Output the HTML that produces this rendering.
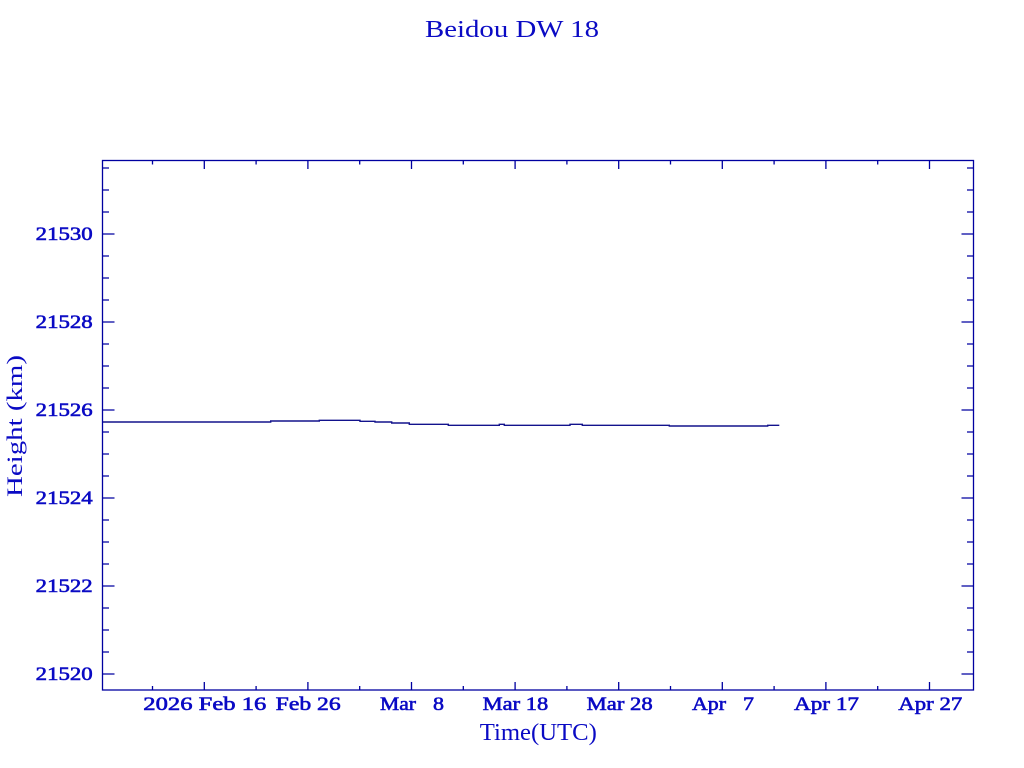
<!DOCTYPE html>
<html>
<head>
<meta charset="utf-8">
<style>
html,body{margin:0;padding:0;background:#fff;}
svg{display:block;}
text{font-family:"Liberation Serif",serif;fill:#0a0ac4;}
.t{font-weight:normal;font-size:19px;stroke:#0a0ac4;stroke-width:0.6px;}
</style>
</head>
<body>
<svg width="1024" height="768" viewBox="0 0 1024 768" xmlns="http://www.w3.org/2000/svg">
<rect width="1024" height="768" fill="#fff"/>
<!-- title -->
<text x="512" y="37" font-size="24" text-anchor="middle" textLength="174" lengthAdjust="spacingAndGlyphs">Beidou DW 18</text>
<!-- frame -->
<rect x="102.5" y="160.5" width="871" height="529.5" fill="none" stroke="#0000a0" stroke-width="1.3"/>
<g stroke="#0000a0" stroke-width="1.3">
<path d="M102.5 234H114.5M102.5 322H114.5M102.5 410H114.5M102.5 498H114.5M102.5 586H114.5M102.5 674H114.5"/>
<path d="M973.5 234H961.5M973.5 322H961.5M973.5 410H961.5M973.5 498H961.5M973.5 586H961.5M973.5 674H961.5"/>
<path d="M102.5 168H109M102.5 190H109M102.5 212H109M102.5 256H109M102.5 278H109M102.5 300H109M102.5 344H109M102.5 366H109M102.5 388H109M102.5 432H109M102.5 454H109M102.5 476H109M102.5 520H109M102.5 542H109M102.5 564H109M102.5 608H109M102.5 630H109M102.5 652H109"/>
<path d="M973.5 168H967M973.5 190H967M973.5 212H967M973.5 256H967M973.5 278H967M973.5 300H967M973.5 344H967M973.5 366H967M973.5 388H967M973.5 432H967M973.5 454H967M973.5 476H967M973.5 520H967M973.5 542H967M973.5 564H967M973.5 608H967M973.5 630H967M973.5 652H967"/>
<path d="M204.3 690V682M307.9 690V682M411.5 690V682M515.1 690V682M618.7 690V682M722.3 690V682M825.9 690V682M929.5 690V682"/>
<path d="M204.3 160.5V169M307.9 160.5V169M411.5 160.5V169M515.1 160.5V169M618.7 160.5V169M722.3 160.5V169M825.9 160.5V169M929.5 160.5V169"/>
<path d="M152.5 690V686M256.1 690V686M359.7 690V686M463.3 690V686M566.9 690V686M670.5 690V686M774.1 690V686M877.7 690V686"/>
<path d="M152.5 160.5V164.5M256.1 160.5V164.5M359.7 160.5V164.5M463.3 160.5V164.5M566.9 160.5V164.5M670.5 160.5V164.5M774.1 160.5V164.5M877.7 160.5V164.5"/>
</g>
<!-- data line -->
<path fill="none" stroke="#12128c" stroke-width="1.4" d="M103 422H270.7V421H319.3V420.3H360V421.3H375V422H391.7V423H409.3V424.3H448.3V425.3H499.3V424.3H504.3V425.3H570V424.3H582.3V425.3H669.3V426H767.7V425.3H779.3"/>
<!-- y tick labels -->
<g text-anchor="end">
<text class="t" x="92.7" y="240" textLength="57" lengthAdjust="spacingAndGlyphs">21530</text>
<text class="t" x="92.7" y="328" textLength="57" lengthAdjust="spacingAndGlyphs">21528</text>
<text class="t" x="92.7" y="416" textLength="57" lengthAdjust="spacingAndGlyphs">21526</text>
<text class="t" x="92.7" y="504" textLength="57" lengthAdjust="spacingAndGlyphs">21524</text>
<text class="t" x="92.7" y="592" textLength="57" lengthAdjust="spacingAndGlyphs">21522</text>
<text class="t" x="92.7" y="680" textLength="57" lengthAdjust="spacingAndGlyphs">21520</text>
</g>
<!-- x tick labels -->
<text class="t" x="143.3" y="710" textLength="123" lengthAdjust="spacingAndGlyphs">2026 Feb 16</text>
<text class="t" x="275.7" y="710" textLength="65" lengthAdjust="spacingAndGlyphs">Feb 26</text>
<text class="t" x="380" y="710" textLength="36" lengthAdjust="spacingAndGlyphs">Mar</text>
<text class="t" x="433" y="710" textLength="11" lengthAdjust="spacingAndGlyphs">8</text>
<text class="t" x="482.7" y="710" textLength="65.6" lengthAdjust="spacingAndGlyphs">Mar 18</text>
<text class="t" x="586.7" y="710" textLength="66" lengthAdjust="spacingAndGlyphs">Mar 28</text>
<text class="t" x="692" y="710" textLength="34" lengthAdjust="spacingAndGlyphs">Apr</text>
<text class="t" x="743" y="710" textLength="11" lengthAdjust="spacingAndGlyphs">7</text>
<text class="t" x="794" y="710" textLength="65" lengthAdjust="spacingAndGlyphs">Apr 17</text>
<text class="t" x="898.3" y="710" textLength="64" lengthAdjust="spacingAndGlyphs">Apr 27</text>
<!-- axis titles -->
<text x="538.3" y="740" font-size="24" text-anchor="middle" textLength="117" lengthAdjust="spacingAndGlyphs">Time(UTC)</text>
<text transform="translate(22,426) rotate(-90)" x="0" y="0" font-size="22" text-anchor="middle" textLength="142" lengthAdjust="spacingAndGlyphs">Height (km)</text>
</svg>
</body>
</html>
